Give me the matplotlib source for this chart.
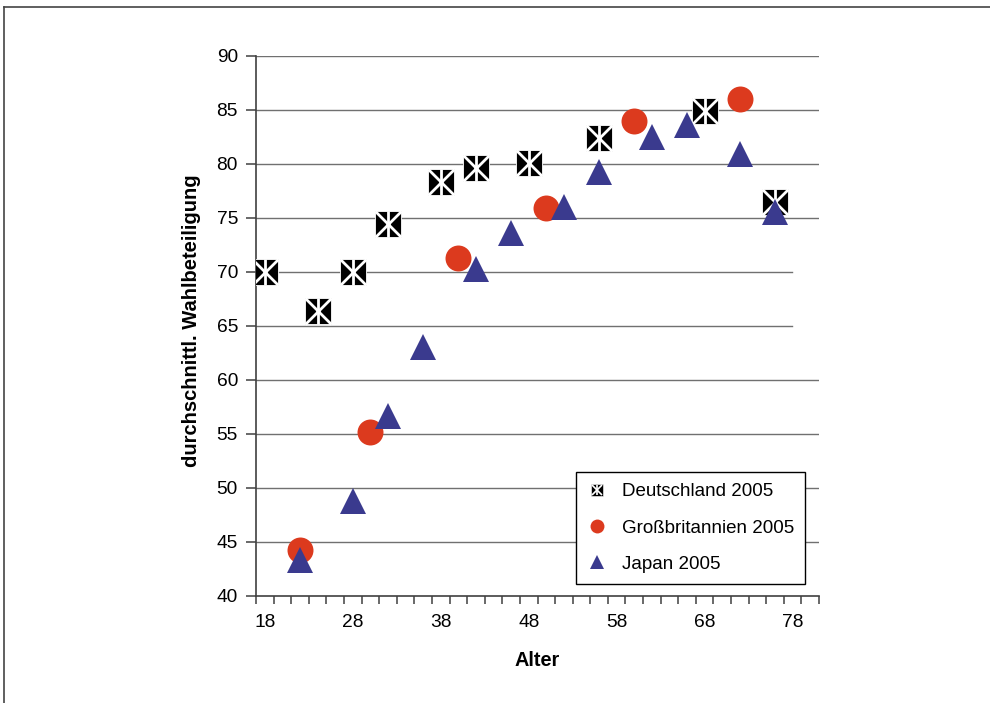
import matplotlib
matplotlib.use("Agg")
import matplotlib.pyplot as plt
from matplotlib.lines import Line2D
from matplotlib.legend_handler import HandlerTuple
import numpy as np

plt.rcParams['font.family'] = ['Liberation Sans', 'DejaVu Sans']

# Wahlbeteiligung nach Alter
de_alter = [18, 24, 28, 32, 38, 42, 48, 56, 68, 76]
de_wert = [70.0, 66.4, 70.0, 74.4, 78.3, 79.6, 80.1, 82.4, 84.9, 76.5]

gb_alter = [22, 30, 40, 50, 60, 72]
gb_wert = [44.3, 55.2, 71.3, 75.9, 84.0, 86.0]

jp_alter = [22, 28, 32, 36, 42, 46, 52, 56, 62, 66, 72, 76]
jp_wert = [43.3, 48.8, 56.7, 63.1, 70.3, 73.6, 76.0, 79.3, 82.5, 83.6, 80.9, 75.6]

x_labels = [18, 28, 38, 48, 58, 68, 78]
y_ticks = [40, 45, 50, 55, 60, 65, 70, 75, 80, 85, 90]

namen = ['Deutschland 2005', 'Großbritannien 2005', 'Japan 2005']
rot = '#DC3A1E'
blau = '#3A3A8E'

fig = plt.figure(figsize=(9.9, 7.03), dpi=100)
ax = fig.add_axes([256 / 990, 1 - 596 / 703, 563 / 990, 540 / 703])

# Rand oben und links
fig.add_artist(Line2D([4 / 990, 1], [1 - 7 / 703, 1 - 7 / 703], color='#444444', lw=1.2, transform=fig.transFigure))
fig.add_artist(Line2D([4 / 990, 4 / 990], [0, 1 - 7 / 703], color='#444444', lw=1.2, transform=fig.transFigure))

ax.set_xlim(17, 81)
ax.set_ylim(40, 90)

# Gitterlinien (65 und 70 enden etwas frueher)
for y in y_ticks[1:]:
    xmax = 0.952 if y in (65, 70) else 1.0
    ax.axhline(y, xmin=0, xmax=xmax, color='#707070', lw=1.0, zorder=0)

# Deutschland: schwarzes Quadrat mit weissem Stern
ms_de = 19.4
ax.plot(de_alter, de_wert, ls='none', marker='s', ms=ms_de, mfc='black', mec='white', mew=0.6, zorder=3)
ax.plot(de_alter, de_wert, ls='none', marker='x', ms=ms_de - 0.5, mec='white', mew=2.0, zorder=3)
ax.plot(de_alter, de_wert, ls='none', marker='|', ms=ms_de - 0.5, mec='white', mew=2.0, zorder=3)

ax.plot(gb_alter, gb_wert, ls='none', marker='o', ms=18.7, mfc=rot, mec=rot, mew=0, zorder=4)
ax.plot(jp_alter, jp_wert, ls='none', marker='^', ms=18.7, mfc=blau, mec=blau, mew=0, zorder=5)

# Achsen
for s in ['top', 'right']:
    ax.spines[s].set_visible(False)
for s in ['left', 'bottom']:
    ax.spines[s].set_color('#404040')
    ax.spines[s].set_linewidth(1.2)

ax.set_yticks(y_ticks)
ax.set_yticklabels([str(v) for v in y_ticks])
ax.tick_params(axis='y', direction='out', length=7, width=1.1, color='#404040', labelsize=13.8, pad=6)

ax.set_xticks(np.arange(17, 82, 2))
ax.set_xticklabels([])
ax.tick_params(axis='x', which='major', direction='out', length=6, width=1.1, color='#404040')
ax.set_xticks(x_labels, minor=True)
ax.set_xticklabels([str(v) for v in x_labels], minor=True)
ax.tick_params(axis='x', which='minor', length=0, labelsize=13.8, pad=13)

ax.set_xlabel('Alter', fontsize=14.3, fontweight='bold')
ax.xaxis.set_label_coords(0.5, -0.102)
ax.set_ylabel('durchschnittl. Wahlbeteiligung', fontsize=14.5, fontweight='bold')
ax.yaxis.set_label_coords(-0.098, 0.51)

# Legende
h_de = (Line2D([], [], ls='none', marker='s', ms=8, mfc='black', mec='white', mew=0.4),
        Line2D([], [], ls='none', marker='x', ms=7.5, mec='white', mew=1.2),
        Line2D([], [], ls='none', marker='|', ms=7.5, mec='white', mew=1.2))
h_gb = Line2D([], [], ls='none', marker='o', ms=10, mfc=rot, mec=rot, mew=0)
h_jp = Line2D([], [], ls='none', marker='^', ms=10.5, mfc=blau, mec=blau, mew=0)

leg = ax.legend([h_de, h_gb, h_jp], namen,
                handler_map={tuple: HandlerTuple(ndivide=1, pad=0)},
                loc='upper left', bbox_to_anchor=(576 / 990, 1 - 472 / 703),
                bbox_transform=fig.transFigure, borderaxespad=0,
                fontsize=13.5, frameon=True, fancybox=False, shadow=False,
                borderpad=0.6, labelspacing=1.02, handlelength=1.0,
                handletextpad=0.85)
leg.get_frame().set_edgecolor('black')
leg.get_frame().set_linewidth(1.0)
leg.get_frame().set_alpha(1)
leg.set_zorder(10)

fig.savefig('out.png', dpi=100)
